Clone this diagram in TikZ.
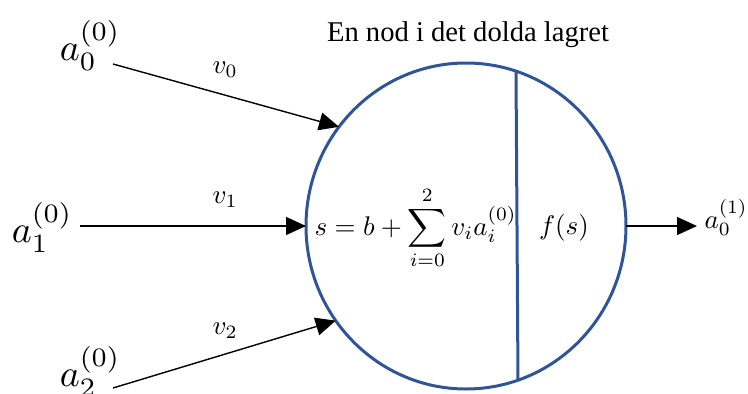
\documentclass[tikz,border=0pt]{standalone}
\usepackage{fontspec}
\setmainfont{Liberation Serif}
\usetikzlibrary{arrows.meta,shapes.geometric}
\definecolor{nodeblue}{HTML}{2F5597}
\begin{document}
\begin{tikzpicture}[x=1pt,y=-1pt,
  conn/.style={line width=1.4pt,-{Triangle[length=20pt,width=18pt]}},
  biglbl/.style={inner sep=0pt,anchor=base west,scale=3.8,transform shape},
  wlbl/.style={inner sep=0pt,anchor=base west,scale=2.7,transform shape},
  bluepart/.style={draw=nodeblue,line width=3pt},
]
\useasboundingbox (0,0) rectangle (748,394);
% the neuron
\node[bluepart,ellipse,minimum width=320pt,minimum height=326pt,inner sep=0pt,outer sep=0pt] (neuron) at (466,226) {};
\coordinate (dtop) at (516,71);
\coordinate (dbot) at (518,381);
\draw[bluepart] (dtop) -- (dbot);
% title
\node[inner sep=0pt,anchor=base,font=\fontsize{28.6}{31}\selectfont] (title) at (468,41) {En nod i det dolda lagret};
% inner texts
\node[wlbl] (sum) at (314,235) {$\displaystyle s=b+\sum_{i=0}^{2}v_i a_i^{(0)}$};
\node[wlbl,anchor=base] (fs) at (564,234) {$f(s)$};
% inputs
\node[biglbl] (a0) at (59,60) {$a_0^{(0)}$};
\node[biglbl] (a1) at (11,242) {$a_1^{(0)}$};
\node[biglbl] (a2) at (59,386) {$a_2^{(0)}$};
\coordinate (s0) at (113,64);
\coordinate (s1) at (80,226);
\coordinate (s2) at (113,388);
\draw[conn] (s0) -- (neuron.142.56);
\draw[conn] (s1) -- (neuron.west);
\draw[conn] (s2) -- (neuron.216.9);
% weights
\node[wlbl] (v0) at (212,73) {$v_0$};
\node[wlbl] (v1) at (212,203) {$v_1$};
\node[wlbl] (v2) at (212,334) {$v_2$};
% output
\coordinate (oend) at (697,226);
\draw[conn] (neuron.east) -- (oend);
\node[wlbl] (out) at (704,228) {$a_0^{(1)}$};
\end{tikzpicture}
\end{document}
